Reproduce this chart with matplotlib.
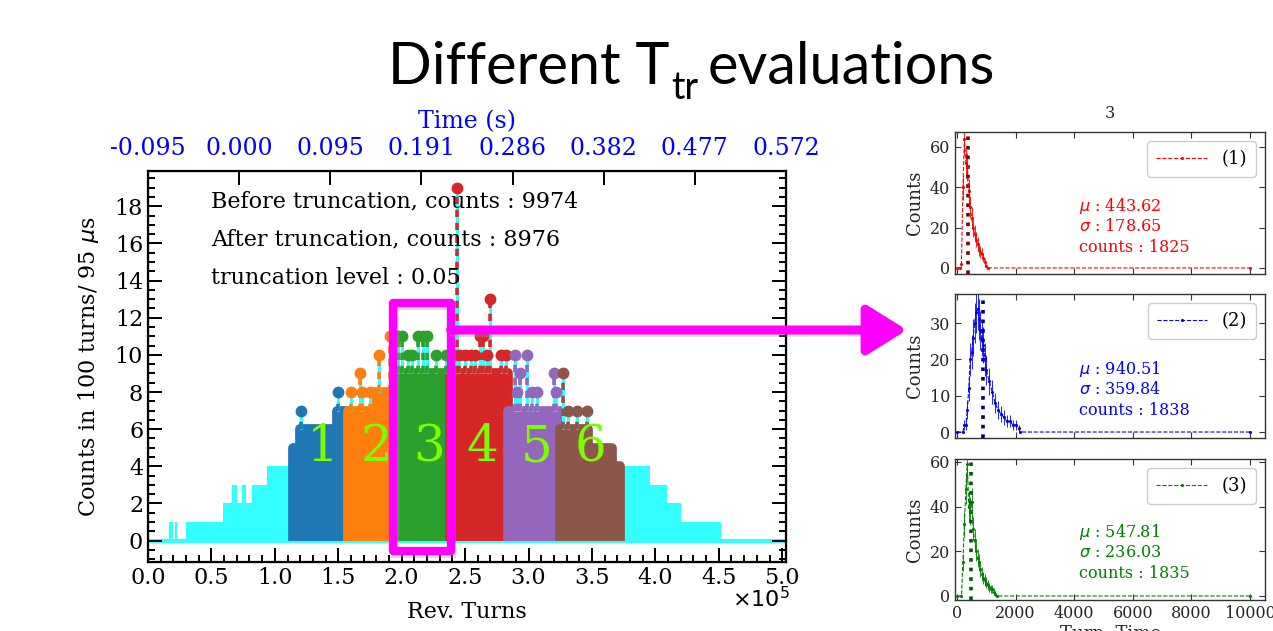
import matplotlib
matplotlib.use("Agg")
import matplotlib.pyplot as plt
import numpy as np
from matplotlib.lines import Line2D
from matplotlib.patches import Rectangle, ConnectionPatch
from matplotlib.ticker import FuncFormatter, MultipleLocator

plt.rcParams["font.family"] = ["DejaVu Serif"]
plt.rcParams["mathtext.fontset"] = "dejavusans"

# ---------------- main histogram (counts per 100 turns) ----------------
# cyan background, outside the six selected windows
cyan_edges = [0, 16500, 19500, 21000, 23000, 30000, 59000, 66000, 70000, 74000,
              77500, 82000, 93500, 114000, 372000, 396000, 409000, 420000, 452000, 503000]
cyan_levels = [0, 1, 0, 1, 0, 1, 2, 3, 2, 3, 2, 3, 4, 0, 4, 3, 2, 1, 0]

# six windows: body envelope (edges / levels) and isolated peaks
w1_edges, w1_levels = [114000, 120000, 149000, 158000], [5, 6, 7]
w1_peak_x, w1_peak_y = [121000, 150000], [7, 8]

w2_edges, w2_levels = [158000, 178000, 195000], [7, 8]
w2_peak_x, w2_peak_y = [160000, 167000, 168500, 175000, 182000, 191000], [8, 9, 8, 8, 10, 11]

w3_edges, w3_levels = [195000, 238000], [9]
w3_peak_x = [197000, 200000, 205000, 208000, 213000, 217000, 220000, 227000, 235000]
w3_peak_y = [11, 11, 10, 10, 11, 11, 11, 10, 10]

w4_edges, w4_levels = [238000, 284000], [9]
w4_peak_x = [241000, 244000, 245000, 250000, 255000, 258000, 262000, 264000, 267000,
             270000, 278000, 282000]
w4_peak_y = [10, 19, 10, 10, 10, 10, 11, 11, 10, 13, 10, 10]

w5_edges, w5_levels = [284000, 325000], [7]
w5_peak_x = [289000, 291000, 293000, 299000, 303000, 307000, 320000, 322000]
w5_peak_y = [10, 8, 9, 10, 8, 8, 9, 8]

w6_edges, w6_levels = [325000, 347000, 366000, 372000], [6, 5, 4]
w6_peak_x = [327000, 331000, 338000, 346000]
w6_peak_y = [9, 7, 7, 7]

win_colors = ["tab:blue", "tab:orange", "tab:green", "tab:red", "tab:purple", "tab:brown"]
win_labels = ["1", "2", "3", "4", "5", "6"]
win_label_x = [137800, 180000, 222000, 264000, 306500, 348600]

top_tick_labels = ["-0.095", "0.000", "0.095", "0.191", "0.286", "0.382", "0.477", "0.572"]

info_lines = ["Before truncation, counts : 9974",
              "After truncation, counts : 8976",
              "truncation level : 0.05"]

# ---------------- right panels (window 3, three T_tr estimates) ----------------
p1_x = [0, 100, 150, 200, 250, 300, 350, 400, 450, 500, 550, 600, 650, 700, 750,
        800, 850, 900, 950, 1000, 1050, 10000]
p1_y = [0, 0, 2, 40, 64, 52, 50, 38, 30, 25, 20, 17, 14, 12, 9, 8, 7, 5, 3, 1, 0, 0]

p2_x = [0, 200, 250, 300, 350, 400, 450, 500, 550, 600, 650, 700, 750, 800, 850, 900,
        950, 1000, 1100, 1200, 1300, 1400, 1500, 1600, 1700, 1800, 1900, 2000, 2100,
        2150, 10000]
p2_y = [0, 0, 2, 2, 6, 12, 20, 22, 26, 30, 33, 34, 31, 28, 26, 24, 20, 17, 14, 11, 8,
        6, 5, 4, 3, 3, 2, 2, 1, 0, 0]

p3_x = [0, 150, 200, 250, 300, 350, 400, 450, 500, 550, 600, 650, 700, 750, 800, 850,
        900, 950, 1000, 1050, 1100, 1150, 1200, 1250, 1300, 1350, 10000]
p3_y = [0, 0, 15, 32, 48, 59, 40, 38, 42, 30, 25, 20, 17, 15, 12, 10, 8, 7, 6, 5, 4,
        3, 3, 2, 1, 0, 0]

p_mark = [360, 900, 490]
p_mu = ["443.62", "940.51", "547.81"]
p_sigma = ["178.65", "359.84", "236.03"]
p_counts = ["1825", "1838", "1835"]
p_legend = ["(1)", "(2)", "(3)"]
p_colors = ["red", "blue", "green"]
p_dark = ["#7a0000", "#00006e", "#005a00"]

CYAN = "#33ffff"

fig = plt.figure(figsize=(12.73, 6.31), dpi=100)
W, H = 1273, 631


def box(l, t, r, b):
    return [l / W, 1 - b / H, (r - l) / W, (b - t) / H]


# title (slide header)
tx, ty = 388 / W, 1 - 84 / H
t1 = fig.text(tx, ty, "Different T", family="Lato", fontsize=41.5, va="baseline")
fig.canvas.draw()
r = fig.canvas.get_renderer()
bb = t1.get_window_extent(r)
t2 = fig.text(bb.x1 / W + 0.001, ty - 15 / H, "tr", family="Lato", fontsize=27, va="baseline")
bb2 = t2.get_window_extent(r)
fig.text(bb2.x1 / W + 0.008, ty, "evaluations", family="Lato", fontsize=41.5, va="baseline")

# ---------------- main axes ----------------
ax = fig.add_axes(box(148, 171, 786, 562))
ax.stairs(cyan_levels, cyan_edges, baseline=0, fill=True, color=CYAN, zorder=1)
ax.hlines(0, cyan_edges[0], cyan_edges[-1], color=CYAN, lw=3, zorder=1)

windows = [
    (w1_edges, w1_levels, w1_peak_x, w1_peak_y),
    (w2_edges, w2_levels, w2_peak_x, w2_peak_y),
    (w3_edges, w3_levels, w3_peak_x, w3_peak_y),
    (w4_edges, w4_levels, w4_peak_x, w4_peak_y),
    (w5_edges, w5_levels, w5_peak_x, w5_peak_y),
    (w6_edges, w6_levels, w6_peak_x, w6_peak_y),
]
for (edges, levels, px, py), c in zip(windows, win_colors):
    ax.stairs(levels, edges, baseline=0, fill=True, facecolor=c, edgecolor=c,
              lw=7, joinstyle="round", zorder=2)
    # stems start from the top of the window body
    idx = np.clip(np.searchsorted(edges, px, side="right") - 1, 0, len(levels) - 1)
    base = np.asarray(levels)[idx]
    ax.vlines(px, base, py, color=CYAN, lw=2.2, zorder=3)
    ax.vlines(px, base, py, color=c, lw=2.6, linestyles=(0, (2.0, 1.6)), zorder=3)
    ax.plot(px, py, "o", color=c, ms=7.5, zorder=4)

for lx, lab in zip(win_label_x, win_labels):
    ax.text(lx, 5.0, lab, color="#7cfc00", fontsize=36, ha="center", va="center", zorder=5)

for i, line in enumerate(info_lines):
    ax.text(0.099, 0.923 - i * 0.098, line, transform=ax.transAxes, fontsize=16,
            va="center", ha="left", zorder=6)

ax.set_xlim(0, 503000)
ax.set_ylim(-1.15, 19.9)
ax.xaxis.set_major_locator(MultipleLocator(50000))
ax.xaxis.set_minor_locator(MultipleLocator(10000))
ax.yaxis.set_major_locator(MultipleLocator(2))
ax.yaxis.set_minor_locator(MultipleLocator(0.5))
ax.xaxis.set_major_formatter(FuncFormatter(lambda v, p: f"{v / 1e5:.1f}"))
ax.tick_params(which="both", direction="in", top=True, right=True, width=1.4)
ax.tick_params(which="major", length=10, labelsize=16)
ax.tick_params(which="minor", length=5)
for s in ax.spines.values():
    s.set_linewidth(1.6)
ax.set_xlabel("Rev. Turns", fontsize=16, labelpad=9)
ax.set_ylabel(r"Counts in 100 turns/ 95 $\mu$s", fontsize=16, labelpad=10)
ax.text(1.006, -0.097, r"$\times10^5$", transform=ax.transAxes, ha="right", va="center",
        fontsize=16)

ax2 = ax.twiny()
ax2.set_xlim(ax.get_xlim())
lo, hi = ax.get_xlim()
ax2.set_xticks(np.linspace(lo, hi, len(top_tick_labels)))
ax2.set_xticklabels(top_tick_labels, color="blue", fontsize=17)
ax2.tick_params(direction="in", length=10, width=1.4, pad=8)
ax2.set_xlabel("Time (s)", color="blue", fontsize=17, labelpad=6)

# highlight of window 3
hl = dict(x0=193200, y0=-0.56, w=45400, h=13.36)
ax.add_patch(Rectangle((hl["x0"] + 1200, hl["y0"] - 0.15), hl["w"], hl["h"], fill=False,
                       ec="0.6", lw=6, alpha=0.35, clip_on=False, zorder=7))
ax.add_patch(Rectangle((hl["x0"], hl["y0"]), hl["w"], hl["h"], fill=False,
                       ec="#ff00ff", lw=6, joinstyle="round", clip_on=False, zorder=8))

# ---------------- right panels ----------------
pboxes = [box(955, 132, 1265, 274), box(955, 294, 1265, 438), box(955, 459, 1265, 600)]
pylims = [(-3, 67.4), (-1.65, 38), (-1.8, 61.3)]
pyticks = [[0, 20, 40, 60], [0, 10, 20, 30], [0, 20, 40, 60]]
pdata = [(p1_x, p1_y), (p2_x, p2_y), (p3_x, p3_y)]
paxes = []
for k in range(3):
    pa = fig.add_axes(pboxes[k])
    x, y = pdata[k]
    c = p_colors[k]
    pa.errorbar(x, y, yerr=np.sqrt(y), fmt="--", marker=".", ms=2.5, lw=0.8,
                elinewidth=0.6, color=c)
    pa.axvline(p_mark[k], color=p_dark[k], ls=":", lw=2.6)
    pa.set_xlim(-70, 10510)
    pa.set_ylim(*pylims[k])
    pa.set_yticks(pyticks[k])
    pa.set_xticks(range(0, 10001, 2000))
    pa.tick_params(direction="in", top=True, right=True, length=4, color="#333333",
                   labelcolor="#262626", labelsize=11.5)
    if k < 2:
        pa.tick_params(labelbottom=False)
    for s in pa.spines.values():
        s.set_color("#333333")
        s.set_linewidth(1.0)
    pa.set_ylabel("Counts", fontsize=13, color="#262626", labelpad=4)
    pa.text(0.40, 0.48, r"$\mu$ : " + p_mu[k], color=c, transform=pa.transAxes,
            fontsize=11.5, va="center")
    pa.text(0.40, 0.335, r"$\sigma$ : " + p_sigma[k], color=c, transform=pa.transAxes,
            fontsize=11.5, va="center")
    pa.text(0.40, 0.19, "counts : " + p_counts[k], color=c, transform=pa.transAxes,
            fontsize=11.5, va="center")
    handle = Line2D([], [], ls="--", marker=".", ms=2.5, lw=0.8, color=c)
    pa.legend([handle], [p_legend[k]], loc="upper right", fontsize=13, handlelength=2.8,
              framealpha=1, edgecolor="#cccccc", borderpad=0.5)
    paxes.append(pa)

paxes[0].set_title("3", fontsize=11.5, color="#262626", pad=10)
paxes[2].set_xlabel("Turn  Time", fontsize=13, color="#262626", labelpad=2)

# arrow from the highlighted window to the panels
shadow = ConnectionPatch(xyA=(hl["x0"] + hl["w"] + 1500, 11.2), coordsA=ax.transData,
                         xyB=(-0.2, 0.735), coordsB=paxes[1].transAxes,
                         arrowstyle="-", lw=6.5, color="0.6", alpha=0.35, zorder=9)
fig.add_artist(shadow)
con = ConnectionPatch(xyA=(hl["x0"] + hl["w"], 11.34), coordsA=ax.transData,
                      xyB=(-0.155, 0.75), coordsB=paxes[1].transAxes,
                      arrowstyle="-|>,head_length=1.2,head_width=0.75", mutation_scale=20,
                      lw=6.5, color="#ff00ff", zorder=10)
fig.add_artist(con)

fig.savefig("out.png", dpi=100)
